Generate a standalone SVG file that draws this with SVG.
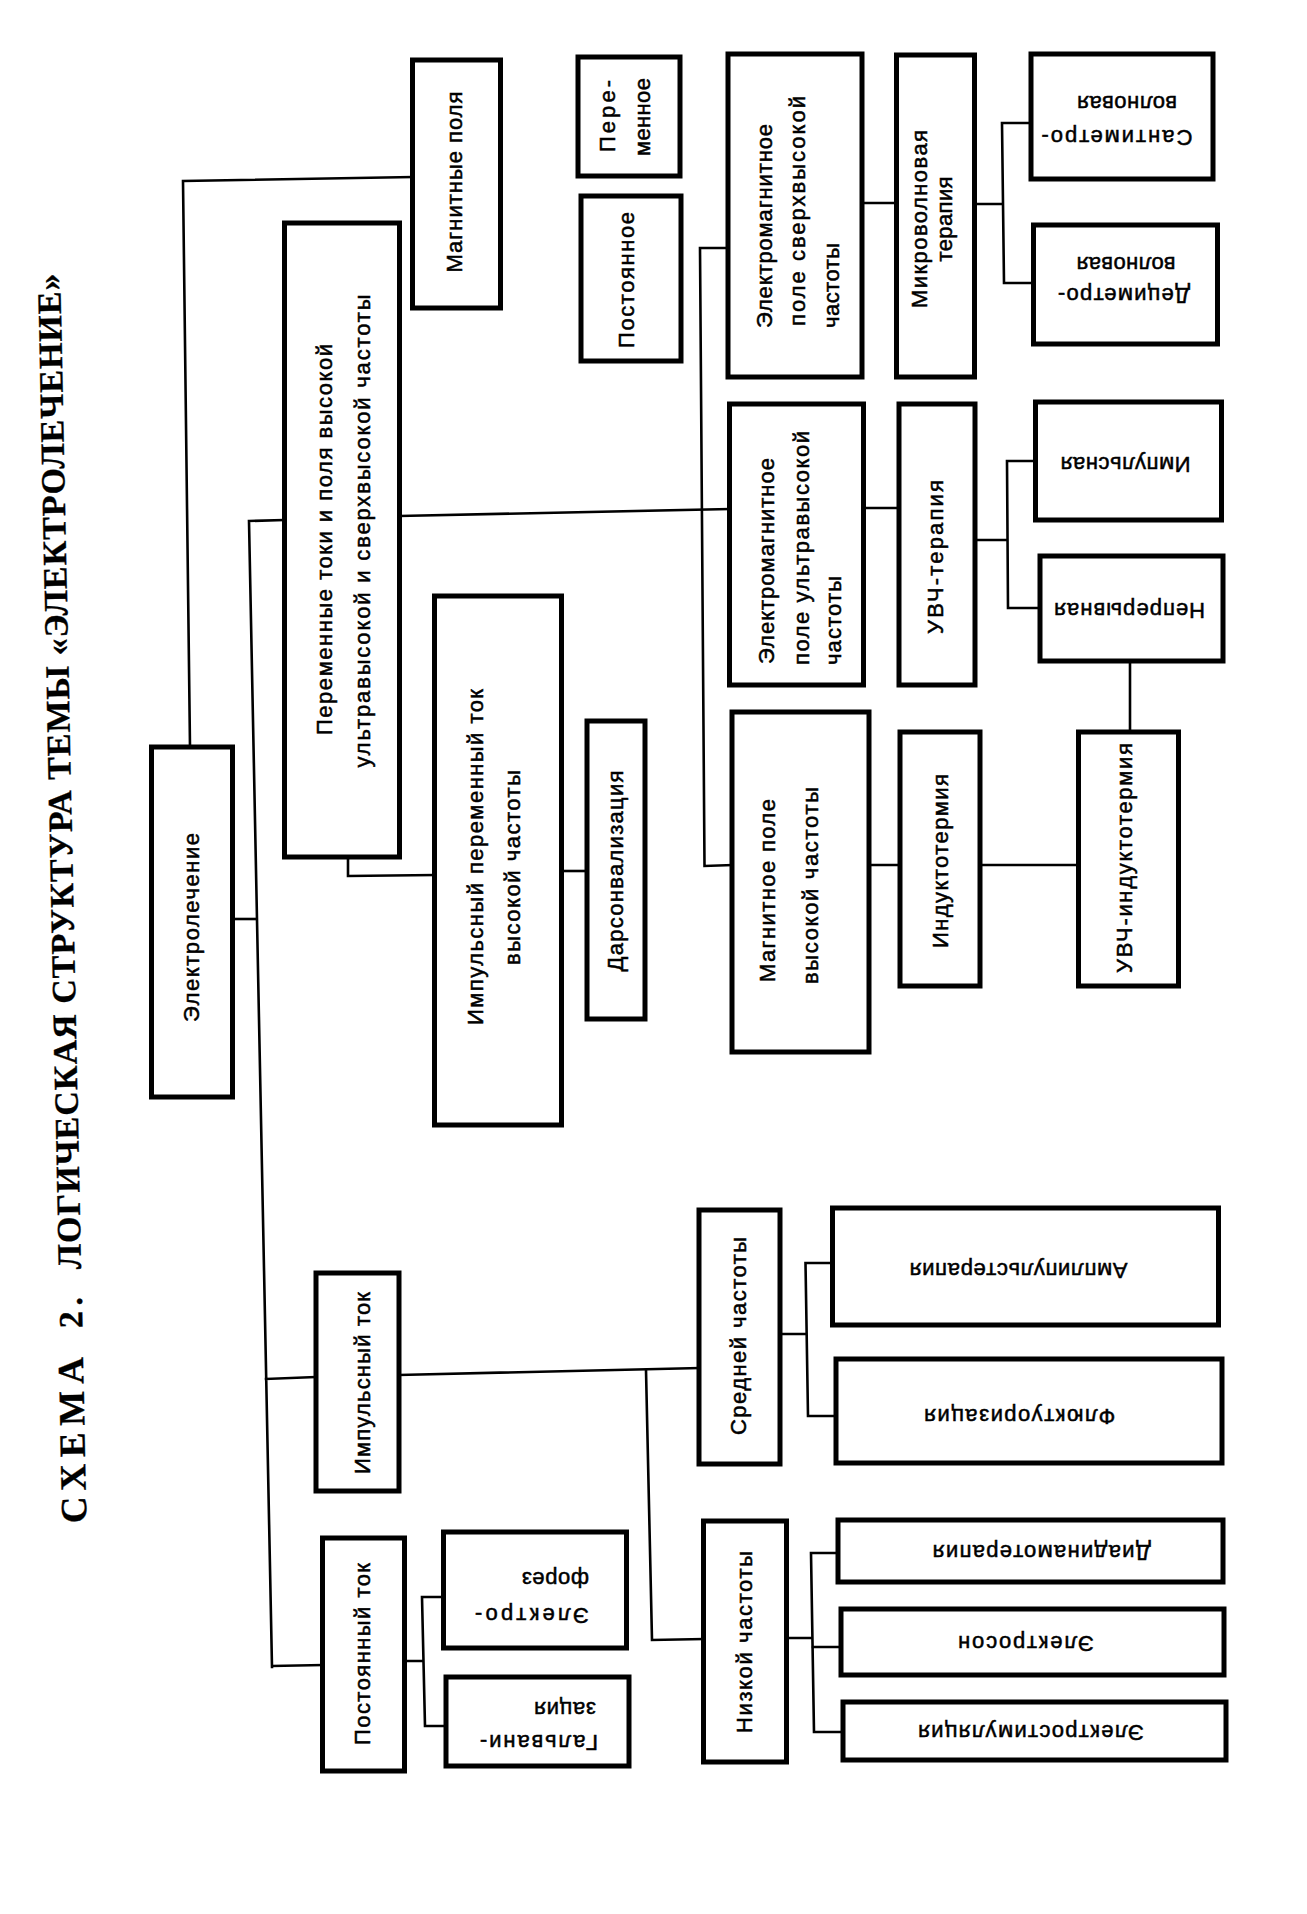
<svg xmlns="http://www.w3.org/2000/svg" width="1307" height="1914" viewBox="0 0 1307 1914">
<style>
.box{fill:#fff;stroke:#000;stroke-width:5}
.c{fill:none;stroke:#000;stroke-width:2.6;stroke-linejoin:miter;stroke-linecap:square}
text{font-family:"Liberation Sans",Arial,sans-serif;font-size:22px;fill:#000;stroke:#000;stroke-width:0.5}
.m{text-anchor:middle}
.t{font-family:"Liberation Serif","Times New Roman",serif;font-weight:bold;font-size:34px;stroke-width:0.3}
</style>
<rect width="1307" height="1914" fill="#fff"/>
<g id="title">
<text class="t" style="font-size:37px" transform="translate(86.5 1523) rotate(-91.2)" textLength="166">СХЕМА</text>
<text class="t" transform="translate(82.4 1328) rotate(-91.2)" textLength="31">2.</text>
<text class="t" transform="translate(81.1 1269) rotate(-91.2)" textLength="996">ЛОГИЧЕСКАЯ СТРУКТУРА ТЕМЫ «ЭЛЕКТРОЛЕЧЕНИЕ»</text>
</g>
<g id="connectors">
<path class="c" d="M190,747 L183,181 L412.5,177"/>
<path class="c" d="M232.5,919 L256,919"/>
<path class="c" d="M249,521 L272,1667 M249,521 L284.5,520 M266,1379 L316,1377 M272,1666 L322.5,1665"/>
<path class="c" d="M348,857 L348,876 L434.5,875"/>
<path class="c" d="M561.5,871 L587,871"/>
<path class="c" d="M399.5,516 L729.5,509"/>
<path class="c" d="M728,248 L700,248 L704.5,866 L732,865"/>
<path class="c" d="M862,203 L896.5,203"/>
<path class="c" d="M974.5,204 L1003,204 M1031,123 L1002,123 L1004,283 L1033.5,283"/>
<path class="c" d="M863.5,508 L899,508"/>
<path class="c" d="M975,540 L1007.5,540 M1035.5,461 L1007,461 L1008,608 L1040,608"/>
<path class="c" d="M1130,661 L1130,732"/>
<path class="c" d="M869,865 L900,865"/>
<path class="c" d="M980,865 L1078.5,865"/>
<path class="c" d="M399,1375 L699,1368"/>
<path class="c" d="M646,1370 L652,1640 L703.5,1639"/>
<path class="c" d="M780,1334 L806.5,1334 M832.5,1263 L805.5,1263 L808,1416 L836,1416"/>
<path class="c" d="M786.5,1638 L812,1638 M838,1553 L811,1553 L814,1732 L843,1732 M812.5,1647 L841,1647"/>
<path class="c" d="M404.5,1661 L423,1661 M443.5,1597 L422,1597 L425,1726 L446,1726"/>
</g>
<g id="n1"><rect class="box" x="151.5" y="747" width="81" height="350"/>
<text class="m" transform="translate(199 927.5) rotate(-90)" textLength="189">Электролечение</text></g>
<g id="n2"><rect class="box" x="412.5" y="60" width="88" height="248"/>
<text class="m" transform="translate(462 182) rotate(-90)" textLength="181">Магнитные поля</text></g>
<g id="n3"><rect class="box" x="578" y="57" width="102" height="119"/>
<text class="m" transform="translate(615 116) rotate(-90)" textLength="72">Пере-</text>
<text class="m" transform="translate(649.5 117) rotate(-90)" textLength="78">менное</text></g>
<g id="n4"><rect class="box" x="581" y="196" width="100" height="165"/>
<text class="m" transform="translate(634 280) rotate(-90)" textLength="136">Постоянное</text></g>
<g id="n5"><rect class="box" x="284.5" y="223" width="115" height="634"/>
<text class="m" transform="translate(332 539.5) rotate(-90)" textLength="391">Переменные токи и поля высокой</text>
<text class="m" transform="translate(370 531) rotate(-90)" textLength="473">ультравысокой и сверхвысокой частоты</text></g>
<g id="n6"><rect class="box" x="434.5" y="596" width="127" height="529"/>
<text class="m" transform="translate(483 857) rotate(-90)" textLength="336">Импульсный переменный ток</text>
<text class="m" transform="translate(520 867.5) rotate(-90)" textLength="195">высокой частоты</text></g>
<g id="n7"><rect class="box" x="587" y="721" width="58" height="298"/>
<text class="m" transform="translate(623 871) rotate(-90)" textLength="201">Дарсонвализация</text></g>
<g id="n8"><rect class="box" x="728" y="54" width="134" height="323"/>
<text transform="translate(771.5 328) rotate(-90)" textLength="204">Электромагнитное</text>
<text transform="translate(805 326) rotate(-90)" textLength="230">поле сверхвысокой</text>
<text transform="translate(838.5 328) rotate(-90)" textLength="85">частоты</text></g>
<g id="n9"><rect class="box" x="896.5" y="55" width="78" height="322"/>
<text class="m" transform="translate(927 219) rotate(-90)" textLength="178">Микроволновая</text>
<text class="m" transform="translate(952 219) rotate(-90)" textLength="85">терапия</text></g>
<g id="n10"><rect class="box" x="1031" y="54" width="182" height="125"/>
<text class="m" transform="translate(1117 130) rotate(180)" textLength="151">Сантиметро-</text>
<text class="m" transform="translate(1127 96) rotate(180)" textLength="100">волновая</text></g>
<g id="n11"><rect class="box" x="1033.5" y="225" width="184" height="119"/>
<text class="m" transform="translate(1124 288) rotate(180)" textLength="132">Дециметро-</text>
<text class="m" transform="translate(1126 257) rotate(180)" textLength="99">волновая</text></g>
<g id="n12"><rect class="box" x="729.5" y="404" width="134" height="281"/>
<text transform="translate(773.5 664) rotate(-90)" textLength="206">Электромагнитное</text>
<text transform="translate(809 665) rotate(-90)" textLength="234">поле ультравысокой</text>
<text transform="translate(840.5 665) rotate(-90)" textLength="89">частоты</text></g>
<g id="n13"><rect class="box" x="899" y="404" width="76" height="281"/>
<text class="m" transform="translate(943 557) rotate(-90)" textLength="154">УВЧ-терапия</text></g>
<g id="n14"><rect class="box" x="1035.5" y="402" width="186" height="118"/>
<text class="m" transform="translate(1125.5 457) rotate(180)" textLength="130">Импульсная</text></g>
<g id="n15"><rect class="box" x="1040" y="556" width="183" height="105"/>
<text class="m" transform="translate(1129.6 603) rotate(180)" textLength="151">Непрерывная</text></g>
<g id="n16"><rect class="box" x="732" y="712" width="137" height="340"/>
<text transform="translate(775 982) rotate(-90)" textLength="183">Магнитное поле</text>
<text transform="translate(818 984) rotate(-90)" textLength="197">высокой частоты</text></g>
<g id="n17"><rect class="box" x="900" y="732" width="80" height="254"/>
<text class="m" transform="translate(948 861) rotate(-90)" textLength="174">Индуктотермия</text></g>
<g id="n18"><rect class="box" x="1078.5" y="732" width="100" height="254"/>
<text class="m" transform="translate(1132 858) rotate(-90)" textLength="230">УВЧ-индуктотермия</text></g>
<g id="n19"><rect class="box" x="832.5" y="1208" width="386" height="117"/>
<text class="m" transform="translate(1018.6 1262.5) rotate(180)" textLength="218">Амплипульстерапия</text></g>
<g id="n20"><rect class="box" x="699" y="1210" width="81" height="254"/>
<text class="m" transform="translate(745.5 1336) rotate(-90)" textLength="198">Средней частоты</text></g>
<g id="n21"><rect class="box" x="836" y="1359" width="386" height="104"/>
<text class="m" transform="translate(1019.7 1409) rotate(180)" textLength="191">Флюктуоризация</text></g>
<g id="n22"><rect class="box" x="703.5" y="1521" width="83" height="241"/>
<text class="m" transform="translate(752 1642) rotate(-90)" textLength="182">Низкой частоты</text></g>
<g id="n23"><rect class="box" x="838" y="1520" width="385" height="62"/>
<text class="m" transform="translate(1041.7 1545) rotate(180)" textLength="218">Диадинамотерапия</text></g>
<g id="n24"><rect class="box" x="841" y="1609" width="383" height="66"/>
<text class="m" transform="translate(1026 1636) rotate(180)" textLength="136">Электросон</text></g>
<g id="n25"><rect class="box" x="843" y="1702" width="383" height="58"/>
<text class="m" transform="translate(1031 1725) rotate(180)" textLength="226">Электростимуляция</text></g>
<g id="n26"><rect class="box" x="316" y="1273" width="83" height="218"/>
<text class="m" transform="translate(370 1383) rotate(-90)" textLength="182">Импульсный ток</text></g>
<g id="n27"><rect class="box" x="322.5" y="1538" width="82" height="233"/>
<text class="m" transform="translate(370 1654) rotate(-90)" textLength="182">Постоянный ток</text></g>
<g id="n28"><rect class="box" x="443.5" y="1532" width="183" height="116"/>
<text transform="translate(589 1608) rotate(180)" textLength="114">Электро-</text>
<text transform="translate(589 1572) rotate(180)" textLength="67">форез</text></g>
<g id="n29"><rect class="box" x="446" y="1677" width="183" height="89"/>
<text transform="translate(598 1735) rotate(180)" textLength="118">Гальвани-</text>
<text transform="translate(596 1702) rotate(180)" textLength="62">зация</text></g>
</svg>
